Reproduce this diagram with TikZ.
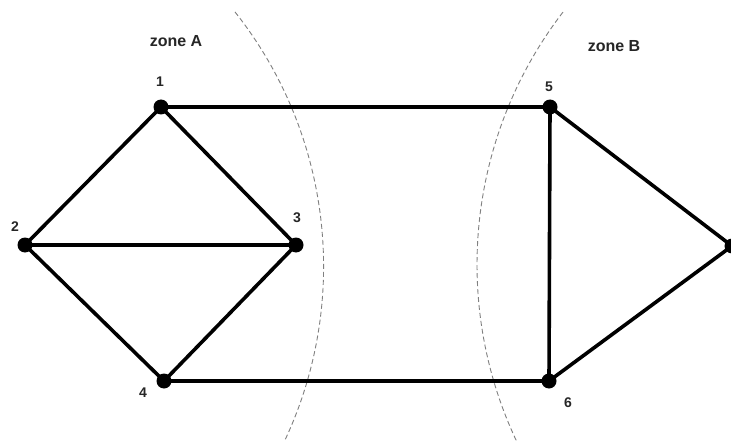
\documentclass[tikz,border=0pt]{standalone}
\usepackage{fontspec}
\setmainfont{Liberation Sans}
\begin{document}
\begin{tikzpicture}[x=1pt,y=-1pt,
  vertex/.style={circle,fill=black,inner sep=0pt,minimum size=15pt},
  edge/.style={line width=3.6pt},
  zonearc/.style={gray,line width=0.9pt,dash pattern=on 5pt off 3pt},
  numlabel/.style={font=\fontsize{14}{14}\selectfont\bfseries,text=black!85},
  zonelabel/.style={font=\fontsize{16}{16}\selectfont\bfseries,text=black!85}]
\useasboundingbox (0,0) rectangle (731,441);
\clip (0,0) rectangle (731,441);
\fill[white] (0,0) rectangle (731,441);
% zone boundaries
\coordinate (ca) at (-86.1,266.4);
\coordinate (cb) at (890.8,264.6);
\draw[zonearc] (ca) ++(-38.4:409.7) arc[start angle=-38.4,end angle=30,radius=409.7];
\draw[zonearc] (cb) ++(217.6:413.8) arc[start angle=217.6,end angle=150,radius=413.8];
% nodes
\node[vertex] (n1) at (161,107) {};
\node[vertex] (n2) at (25,245) {};
\node[vertex] (n3) at (296,245) {};
\node[vertex] (n4) at (164,381) {};
\node[vertex] (n5) at (550,107) {};
\node[vertex] (n6) at (549,381) {};
\node[vertex] (n7) at (732,246) {};
% edges
\draw[edge] (n1.center) -- (n2.center);
\draw[edge] (n1.center) -- (n3.center);
\draw[edge] (n2.center) -- (n3.center);
\draw[edge] (n2.center) -- (n4.center);
\draw[edge] (n3.center) -- (n4.center);
\draw[edge] (n1.center) -- (n5.center);
\draw[edge] (n4.center) -- (n6.center);
\draw[edge] (n5.center) -- (n6.center);
\draw[edge] (n5.center) -- (n7.center);
\draw[edge] (n6.center) -- (n7.center);
% labels
\node[numlabel] (l1) at (160,82) {1};
\node[numlabel] (l2) at (15,227) {2};
\node[numlabel] (l3) at (297,218) {3};
\node[numlabel] (l4) at (143,393) {4};
\node[numlabel] (l5) at (549,87) {5};
\node[numlabel] (l6) at (568,403) {6};
\node[numlabel] (l7) at (737,222) {7};
\node[zonelabel] (za) at (176,41) {zone A};
\node[zonelabel] (zb) at (614,46) {zone B};
\end{tikzpicture}
\end{document}
